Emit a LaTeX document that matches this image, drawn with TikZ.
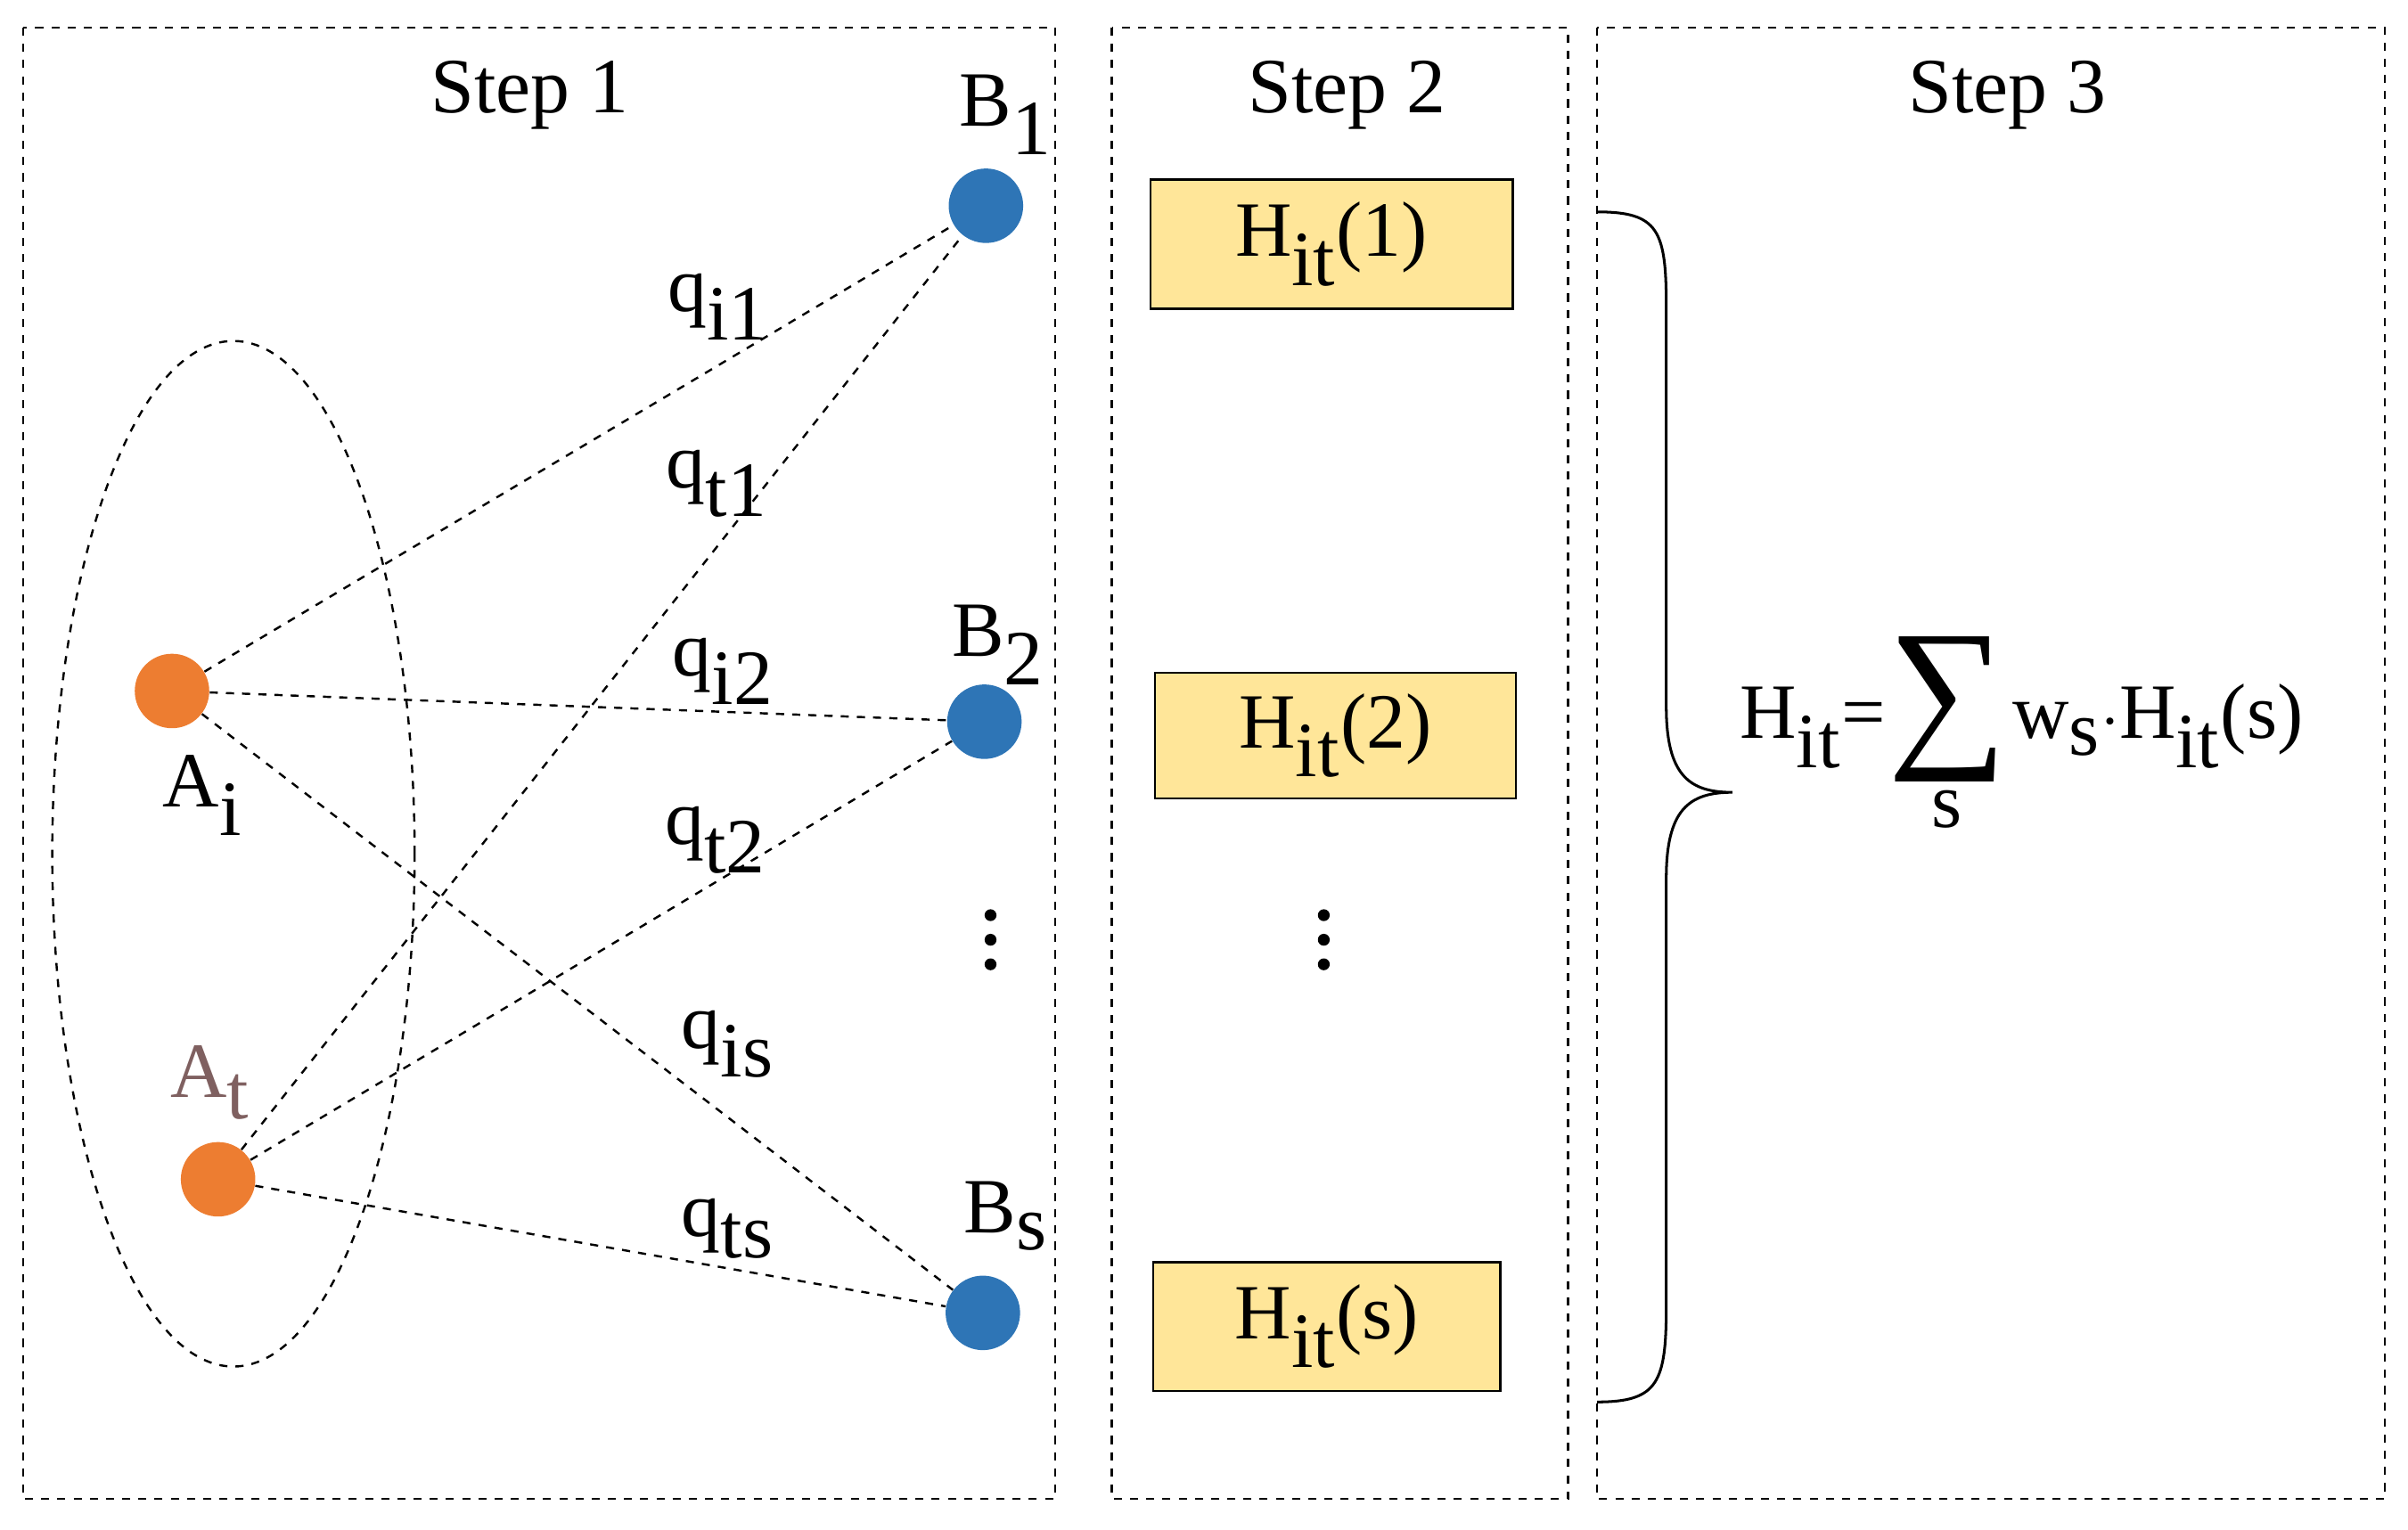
\documentclass[tikz,border=0pt]{standalone}
\usepackage{fontspec}
\setmainfont{Liberation Serif}
\usetikzlibrary{shapes.geometric}
\definecolor{org}{HTML}{ED7D31}
\definecolor{blu}{HTML}{2E75B6}
\definecolor{yel}{HTML}{FFE699}
\definecolor{atc}{HTML}{7F6060}
\tikzset{
 panel/.style={draw,dashed,line width=0.8pt},
 dotA/.style={circle,fill=org,minimum size=0.97cm,inner sep=0},
 dotB/.style={circle,fill=blu,minimum size=0.97cm,inner sep=0},
 edge/.style={dashed,line width=0.8pt},
 lab/.style={font=\fontsize{29}{34}\selectfont,inner sep=0},
 box/.style={draw,fill=yel,line width=0.8pt,font=\fontsize{29}{34}\selectfont,inner sep=0}
}
\newcommand{\sub}[2]{#1\textsubscript{\raisebox{-0.25ex}{\fontsize{29}{34}\selectfont #2}}}
\begin{document}
\begin{tikzpicture}[x=0.02cm,y=-0.02cm]
\useasboundingbox (0,0) rectangle (1568,996);
\draw[panel] (15,18) rectangle (687,976);
\draw[panel] (724,18) rectangle (1021,976);
\draw[panel] (1040,18) rectangle (1553,976);
\node[lab] (s1) at (345,62) {Step 1};
\node[lab] (s2) at (877,62) {Step 2};
\node[lab] (s3) at (1307,62) {Step 3};
\node[ellipse,draw,dashed,line width=0.8pt,minimum width=4.72cm,minimum height=13.36cm] (el) at (152,556) {};
\node[dotA] (Ai) at (112,450) {};
\node[dotA] (At) at (142,768) {};
\node[dotB] (B1) at (642,134) {};
\node[dotB] (B2) at (641,470) {};
\node[dotB] (Bs) at (640,855) {};
\node[lab] (lB1) at (655,75) {\sub{B}{1}};
\node[lab] (lB2) at (650,420) {\sub{B}{2}};
\node[lab] (lBs) at (655,792) {\sub{B}{s}};
\node[lab] (lAi) at (132,518) {\sub{A}{i}};
\node[lab,text=atc] (lAt) at (137,705) {\sub{A}{t}};
\draw[edge] (Ai) -- (B1);
\draw[edge] (Ai) -- (B2);
\draw[edge] (Ai) -- (Bs);
\draw[edge] (At) -- (B1);
\draw[edge] (At) -- (B2);
\draw[edge] (At) -- (Bs);
\node[lab] (q1) at (468,200) {\sub{q}{i1}};
\node[lab] (q2) at (467,315) {\sub{q}{t1}};
\node[lab] (q3) at (471,437) {\sub{q}{i2}};
\node[lab] (q4) at (466,547) {\sub{q}{t2}};
\node[lab] (q5) at (474,680) {\sub{q}{is}};
\node[lab] (q6) at (474,800) {\sub{q}{ts}};
\node[box,minimum width=4.72cm,minimum height=1.68cm] (h1) at (867,159) {\sub{H}{it}(1)};
\node[box,minimum width=4.7cm,minimum height=1.64cm] (h2) at (869.5,479) {\sub{H}{it}(2)};
\node[box,minimum width=4.52cm,minimum height=1.68cm] (h3) at (864,864) {\sub{H}{it}(s)};
\foreach \x/\n in {645/a,862/b}{
 \foreach \y in {596,612,628} \fill (\x,\y) circle (2.2pt);
}
\draw[line width=1pt] (1040,138) .. controls (1080,138) and (1085,150) .. (1085,200)
 -- (1085,460) .. controls (1085,505) and (1100,516) .. (1128,516)
 .. controls (1100,516) and (1085,527) .. (1085,572)
 -- (1085,850) .. controls (1085,900) and (1080,913) .. (1040,913);
\node[lab,anchor=base east] (fl) at (1228,481) {\sub{H}{it}=};
\node[inner sep=0,font=\fontsize{62}{70}\selectfont] (sig) at (1268,462) {∑};
\node[lab] (ss) at (1268,527) {s};
\node[lab,anchor=base west] (fr) at (1310,481) {\sub{w}{s}$\cdot$\sub{H}{it}(s)};
\end{tikzpicture}
\end{document}
